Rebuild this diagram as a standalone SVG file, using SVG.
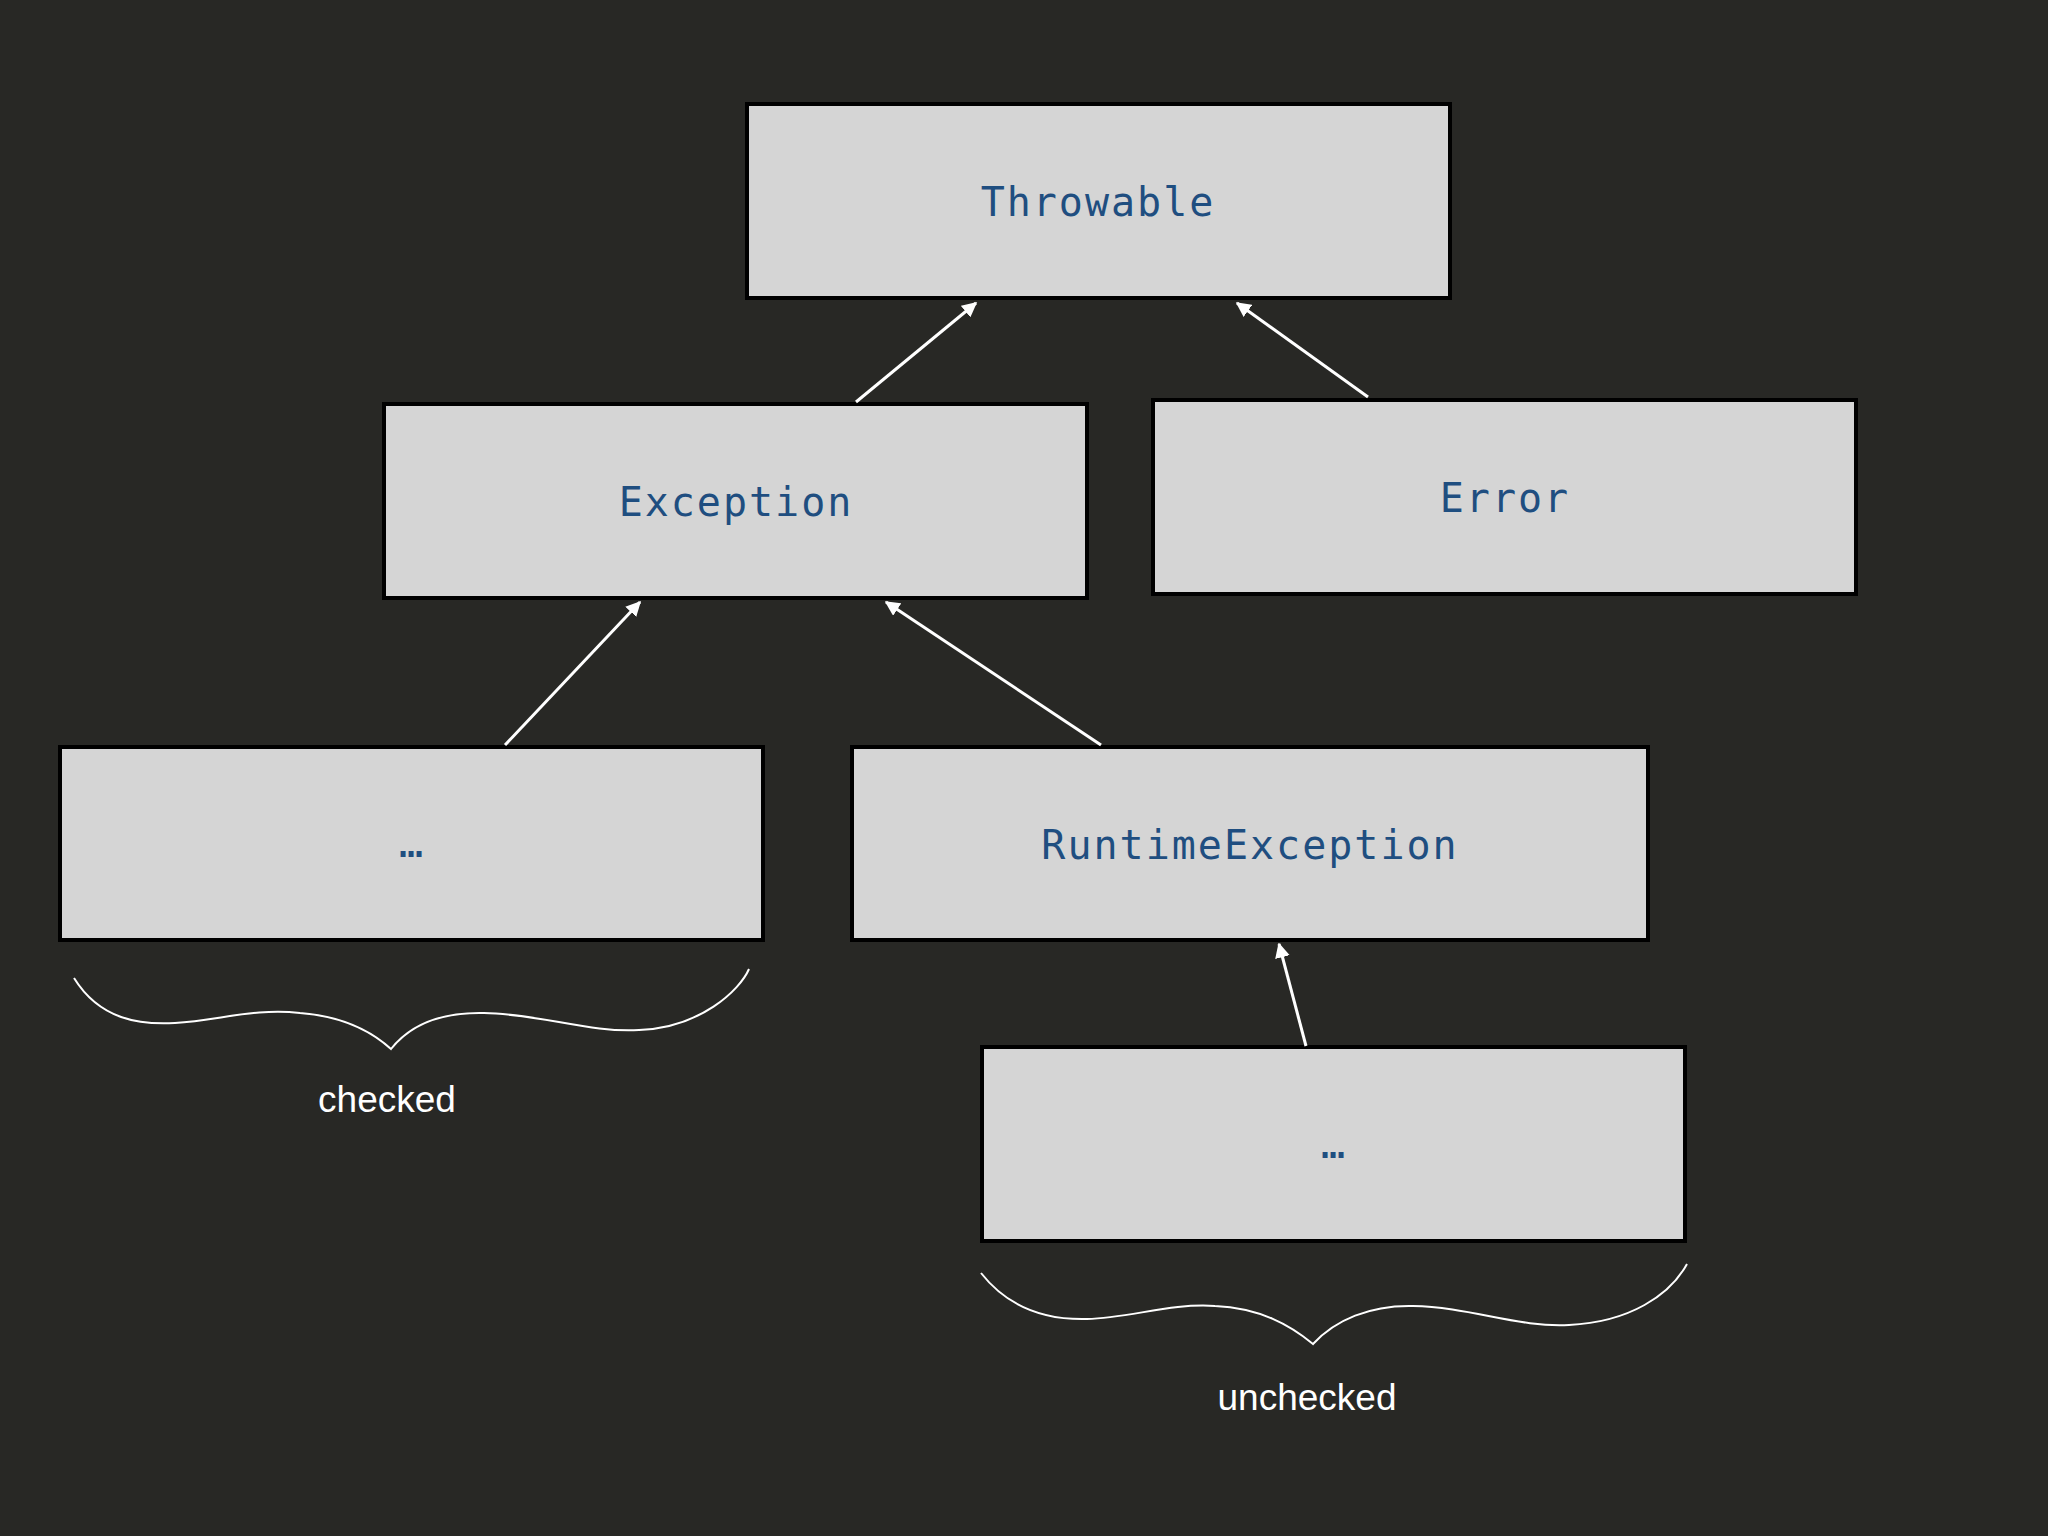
<svg xmlns="http://www.w3.org/2000/svg" width="2048" height="1536" viewBox="0 0 2048 1536">
<defs>
<style>
.box{fill:#d5d5d5;stroke:#000;stroke-width:4}
.lbl{font-family:"DejaVu Sans Mono","Liberation Mono",monospace;font-size:40px;fill:#1f4e80;text-anchor:middle;letter-spacing:2px}
.conn{stroke:#fff;stroke-width:3;fill:none}
.brace{stroke:#fff;stroke-width:2;fill:none}
.note{font-family:"Liberation Sans",Arial,sans-serif;font-size:37px;fill:#fff;text-anchor:middle}
</style>
<marker id="arr" viewBox="0 0 10 10" refX="9" refY="5" markerWidth="5" markerHeight="5" orient="auto" markerUnits="strokeWidth">
<path d="M0,0 L10,5 L0,10 z" fill="#fff"/>
</marker>
</defs>
<rect width="2048" height="1536" fill="#282825"/>
<g id="throwable"><rect class="box" x="747" y="104" width="703" height="194"/><text class="lbl" x="1098" y="216">Throwable</text></g>
<g id="exception"><rect class="box" x="384" y="404" width="703" height="194"/><text class="lbl" x="736" y="516">Exception</text></g>
<g id="error"><rect class="box" x="1153" y="400" width="703" height="194"/><text class="lbl" x="1505" y="512">Error</text></g>
<g id="checked-other"><rect class="box" x="60" y="747" width="703" height="193"/><text class="lbl" x="412" y="857">…</text></g>
<g id="runtime"><rect class="box" x="852" y="747" width="796" height="193"/><text class="lbl" x="1250" y="859">RuntimeException</text></g>
<g id="unchecked-other"><rect class="box" x="982" y="1047" width="703" height="194"/><text class="lbl" x="1334" y="1158">…</text></g>
<g id="connectors">
<line class="conn" x1="856" y1="402" x2="976" y2="303" marker-end="url(#arr)"/>
<line class="conn" x1="1368" y1="397" x2="1237" y2="303" marker-end="url(#arr)"/>
<line class="conn" x1="505" y1="745" x2="640" y2="602" stroke-width="2.5" marker-end="url(#arr)"/>
<line class="conn" x1="1101" y1="745" x2="886" y2="602" stroke-width="2.5" marker-end="url(#arr)"/>
<line class="conn" x1="1306" y1="1046" x2="1279" y2="944" stroke-width="2.5" marker-end="url(#arr)"/>
</g>
<g id="checked-brace">
<path class="brace" d="M74,978 C100,1020 140,1025 175,1023 C220,1020 255,1008 300,1013 C340,1016 370,1030 391,1049 C410,1025 440,1012 484,1013 C540,1014 590,1033 639,1030 C700,1028 740,990 749,969"/>
<text class="note" x="387" y="1112">checked</text>
</g>
<g id="unchecked-brace">
<path class="brace" d="M981,1273 C1010,1310 1050,1320 1087,1319 C1130,1318 1170,1303 1215,1306 C1260,1308 1290,1325 1313,1344 C1335,1320 1370,1305 1413,1306 C1470,1307 1520,1328 1569,1325 C1630,1322 1670,1295 1687,1264"/>
<text class="note" x="1307" y="1410">unchecked</text>
</g>
</svg>
